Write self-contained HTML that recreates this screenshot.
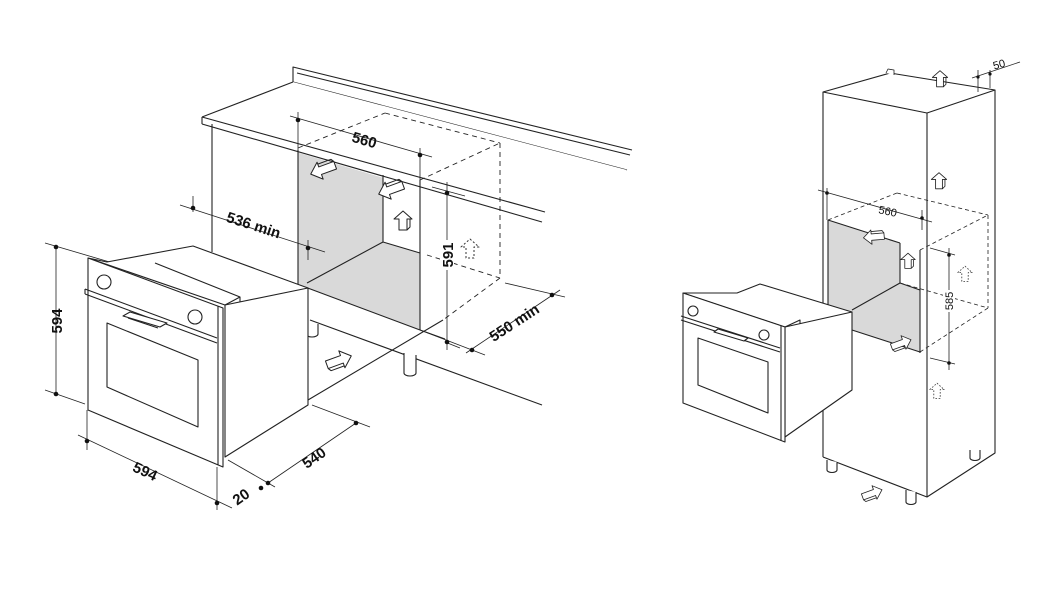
<!DOCTYPE html>
<html><head><meta charset="utf-8"><style>
html,body{margin:0;padding:0;background:#fff;}
svg{display:block;}
text{font-family:"Liberation Sans",Arial,sans-serif;fill:#111;}
</style></head><body>
<svg width="1060" height="594" viewBox="0 0 1060 594" xmlns="http://www.w3.org/2000/svg">
<defs>
<g id="up"><polygon points="0,-11 9,-3 4,-3 4,8 -4,8 -4,-3 -9,-3" fill="#fff" stroke="#222" stroke-width="1"/><polyline points="4,8 7,5 7,-3" fill="none" stroke="#222" stroke-width="1"/></g>
<g id="upd"><polygon points="0,-11 9,-3 4,-3 4,8 -4,8 -4,-3 -9,-3" fill="#fff" stroke="#333" stroke-width="1" stroke-dasharray="2,2"/></g>
<g id="rt"><polygon points="-14,-4 2,-4 2,-9 12,0 2,9 2,4 -14,4" fill="#fff" stroke="#222" stroke-width="1"/><polyline points="-14,4 -12,7 2,7" fill="none" stroke="#222" stroke-width="1"/></g>
</defs>
<g fill="none" stroke="#222" stroke-width="1.1" stroke-linejoin="round">
<!-- LEFT: gray cavity -->
<polygon points="298,151 383,172 383,242 420,253 420,330 305,287 298,285" fill="#d9d9d9" stroke="none"/>
<!-- countertop -->
<polyline points="293,82 293,67 632,150"/>
<line x1="297" y1="73" x2="630" y2="155"/>
<line x1="293" y1="82" x2="627" y2="170"/>
<polygon points="202,117 293,82 627,170 545,210 542,225 202,124" fill="#fff" stroke="none"/>
<line x1="202" y1="117" x2="293" y2="82"/>
<line x1="202" y1="117" x2="545" y2="212"/>
<line x1="202" y1="124" x2="542" y2="222"/>
<line x1="202" y1="117" x2="202" y2="124"/>
<!-- cabinet -->
<line x1="212" y1="124" x2="212" y2="252"/>
<line x1="298" y1="150" x2="298" y2="287"/>
<line x1="420" y1="180" x2="420" y2="330"/>
<line x1="383" y1="175" x2="383" y2="242"/>
<line x1="307" y1="283" x2="383" y2="242"/>
<line x1="383" y1="242" x2="420" y2="253"/>
<line x1="305" y1="287" x2="420" y2="330"/>
<line x1="310" y1="320" x2="542" y2="405"/>
<line x1="308" y1="400" x2="443" y2="320"/>
<line x1="420" y1="330" x2="445" y2="339"/>
<!-- feet -->
<path d="M306,322 v12 a6,3 0 0 0 12,0 v-10" fill="#fff"/>
<path d="M404,353 v20 a6,3 0 0 0 12,0 v-18" fill="#fff"/>
<!-- dashed box -->
<g stroke-dasharray="5,4" stroke-width="0.9">
<line x1="298" y1="148" x2="385" y2="113"/>
<line x1="385" y1="113" x2="500" y2="143"/>
<line x1="420" y1="180" x2="500" y2="143"/>
<line x1="500" y1="143" x2="500" y2="278"/>
<line x1="427" y1="255" x2="500" y2="278"/>
<line x1="500" y1="278" x2="443" y2="320"/>
</g>
<!-- dims left -->
<g stroke-width="0.8">
<line x1="290" y1="116" x2="432" y2="157"/>
<line x1="298" y1="112" x2="298" y2="150"/>
<line x1="420" y1="148" x2="420" y2="180"/>
<line x1="180" y1="205" x2="325" y2="252"/>
<line x1="193" y1="196" x2="193" y2="212"/>
<line x1="308" y1="240" x2="308" y2="260"/>
<line x1="447" y1="182" x2="447" y2="350"/>
<line x1="432" y1="187" x2="465" y2="196"/>
<line x1="445" y1="342" x2="460" y2="348"/>
<line x1="466" y1="353" x2="560" y2="290"/>
<line x1="505" y1="283" x2="565" y2="297"/>
<line x1="420" y1="330" x2="485" y2="355"/>
<line x1="45" y1="243" x2="130" y2="268"/>
<line x1="45" y1="390" x2="85" y2="404"/>
<line x1="56" y1="247" x2="56" y2="394"/>
<line x1="78" y1="435" x2="232" y2="508"/>
<line x1="87" y1="410" x2="87" y2="450"/>
<line x1="217" y1="467" x2="217" y2="510"/>
<line x1="228" y1="460" x2="275" y2="487"/>
<line x1="268" y1="483" x2="356" y2="423"/>
<line x1="312" y1="405" x2="370" y2="427"/>
</g>
<g fill="#111" stroke="none">
<circle cx="298" cy="120" r="2.3"/><circle cx="420" cy="155" r="2.3"/>
<circle cx="193" cy="208" r="2.3"/><circle cx="308" cy="248" r="2.3"/>
<circle cx="447" cy="193" r="2.3"/><circle cx="447" cy="342" r="2.3"/>
<circle cx="472" cy="350" r="2.3"/><circle cx="552" cy="295" r="2.3"/>
<circle cx="56" cy="247" r="2.3"/><circle cx="56" cy="394" r="2.3"/>
<circle cx="87" cy="441" r="2.3"/><circle cx="217" cy="503" r="2.3"/>
<circle cx="261" cy="488" r="2.3"/><circle cx="268" cy="483" r="2.3"/><circle cx="356" cy="423" r="2.3"/>
</g>
<!-- left oven -->
<polygon points="107,262 193,246 308,288 240,323 240,297 225,305 88,258" fill="#fff"/>
<line x1="155" y1="263" x2="240" y2="297"/>
<polygon points="225,305 308,288 308,405 225,457" fill="#fff"/>
<polygon points="88,258 223,308 223,467 88,410" fill="#fff"/>
<line x1="218" y1="306" x2="218" y2="465"/>
<line x1="85" y1="289" x2="217" y2="338"/>
<line x1="85" y1="294" x2="217" y2="343"/>
<line x1="85" y1="289" x2="85" y2="294"/>
<circle cx="104" cy="282" r="7"/><circle cx="195" cy="317" r="7"/>
<polygon points="123,316 160,327 167,323 130,312" fill="#fff"/>
<line x1="128" y1="318" x2="158" y2="328"/>
<polygon points="107,323 198,360 198,427 107,387"/>
<!-- left arrows -->
<g transform="translate(340,360) rotate(-20)"><use href="#rt"/></g>
<g transform="translate(322,170) rotate(160)"><use href="#rt"/></g>
<g transform="translate(390,190) rotate(160)"><use href="#rt"/></g>
<g transform="translate(403,222)"><use href="#up"/></g>
<g transform="translate(470,250)"><use href="#upd"/></g>

<!-- RIGHT figure -->
<polygon points="828,220 900,243 900,283 920,290 920,352 852,330 852,312 828,308" fill="#d9d9d9" stroke="none"/>
<polyline points="823,457 823,92 890,73 995,90 995,453 927,497 823,457"/>
<polyline points="823,92 927,113 995,90"/>
<line x1="927" y1="113" x2="927" y2="497"/>
<line x1="828" y1="220" x2="828" y2="310"/>
<line x1="920" y1="250" x2="920" y2="353"/>
<line x1="900" y1="243" x2="900" y2="283"/>
<line x1="852" y1="310" x2="900" y2="283"/>
<line x1="900" y1="283" x2="920" y2="290"/>
<line x1="852" y1="330" x2="920" y2="352"/>
<line x1="828" y1="220" x2="900" y2="243"/>
<path d="M827,460 v10 a5,2.5 0 0 0 10,0 v-8" fill="#fff"/>
<path d="M906,490 v12 a5,2.5 0 0 0 10,0 v-10" fill="#fff"/>
<path d="M970,450 v8 a5,2.5 0 0 0 10,0 v-8" fill="#fff"/>
<g stroke-dasharray="4,3" stroke-width="0.8">
<line x1="828" y1="220" x2="897" y2="193"/>
<line x1="897" y1="193" x2="988" y2="215"/>
<line x1="920" y1="250" x2="988" y2="215"/>
<line x1="988" y1="215" x2="988" y2="308"/>
<line x1="900" y1="283" x2="988" y2="308"/>
<line x1="988" y1="308" x2="920" y2="352"/>
</g>
<!-- right oven -->
<polygon points="737,293 760,284 852,312 800,337 800,320 785,327 683,293" fill="#fff"/>
<polygon points="785,327 852,312 852,390 785,437" fill="#fff"/>
<polygon points="683,293 785,327 785,442 683,403" fill="#fff"/>
<line x1="781" y1="326" x2="781" y2="441"/>
<line x1="681" y1="316" x2="780" y2="348"/>
<line x1="681" y1="320" x2="780" y2="352"/>
<circle cx="693" cy="311" r="5"/><circle cx="764" cy="335" r="5"/>
<polygon points="714,332 744,341 748,338 718,329" fill="#fff"/>
<polygon points="698,338 768,362 768,413 698,385"/>
<!-- right dims -->
<g stroke-width="0.8">
<line x1="818" y1="190" x2="932" y2="222"/>
<line x1="827" y1="188" x2="827" y2="220"/>
<line x1="922" y1="210" x2="922" y2="230"/>
<line x1="949" y1="248" x2="949" y2="370"/>
<line x1="930" y1="248" x2="955" y2="255"/>
<line x1="930" y1="358" x2="955" y2="364"/>
<line x1="978" y1="70" x2="978" y2="92"/>
<line x1="990" y1="70" x2="990" y2="88"/>
<line x1="972" y1="78" x2="1020" y2="62"/>
</g>
<g fill="#111" stroke="none">
<circle cx="827" cy="193" r="1.8"/><circle cx="922" cy="218" r="1.8"/>
<circle cx="949" cy="255" r="1.8"/><circle cx="949" cy="363" r="1.8"/>
<circle cx="978" cy="77" r="1.6"/><circle cx="990" cy="74" r="1.6"/>
</g>
<g transform="translate(940,80) scale(0.85)"><use href="#up"/></g>
<g transform="translate(939,182) scale(0.85)"><use href="#up"/></g>
<g transform="translate(908,262) scale(0.8)"><use href="#up"/></g>
<g transform="translate(965,275) scale(0.8)"><use href="#upd"/></g>
<g transform="translate(937,392) scale(0.8)"><use href="#upd"/></g>
<g transform="translate(873,237) rotate(175) scale(0.8)"><use href="#rt"/></g>
<g transform="translate(902,343) rotate(-20) scale(0.8)"><use href="#rt"/></g>
<g transform="translate(873,493) rotate(-20) scale(0.8)"><use href="#rt"/></g>
<path d="M886,73 l2,-4 l6,1 v5" fill="#fff" stroke-width="0.8"/>
</g>
<!-- labels -->
<g font-weight="bold">
<text x="0" y="0" font-size="15" transform="translate(363,145) rotate(16)" text-anchor="middle">560</text>
<text x="0" y="0" font-size="15" transform="translate(252,230) rotate(18)" text-anchor="middle">536 min</text>
<rect x="440" y="240" width="14" height="30" fill="#fff"/>
<text x="0" y="0" font-size="15" transform="translate(453,255) rotate(-90)" text-anchor="middle">591</text>
<text x="0" y="0" font-size="15" transform="translate(517,327) rotate(-33)" text-anchor="middle">550 min</text>
<text x="0" y="0" font-size="15" transform="translate(62,321) rotate(-90)" text-anchor="middle">594</text>
<text x="0" y="0" font-size="15" transform="translate(143,476) rotate(25)" text-anchor="middle">594</text>
<text x="0" y="0" font-size="15" transform="translate(244,501) rotate(-35)" text-anchor="middle">20</text>
<text x="0" y="0" font-size="15" transform="translate(317,462) rotate(-35)" text-anchor="middle">540</text>
</g>
<text x="0" y="0" font-size="11" transform="translate(887,215) rotate(12)" text-anchor="middle">560</text>
<rect x="943" y="290" width="12" height="22" fill="#fff"/>
<text x="0" y="0" font-size="11" transform="translate(953,301) rotate(-90)" text-anchor="middle">585</text>
<text x="0" y="0" font-size="11" transform="translate(1000,68) rotate(-15)" text-anchor="middle">50</text>
</svg>
</body></html>
